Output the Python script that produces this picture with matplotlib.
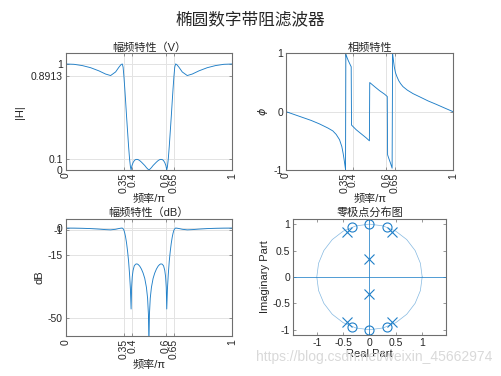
import matplotlib
matplotlib.use("Agg")
import matplotlib.pyplot as plt

plt.rcParams['font.family'] = ['Liberation Sans', 'Noto Sans CJK SC', 'DejaVu Sans']
plt.rcParams['axes.unicode_minus'] = False

# ---------------- data ----------------
freq_ticks = [0, 0.35, 0.4, 0.6, 0.65, 1]
freq_tick_labels = ['0', '0.35', '0.4', '0.6', '0.65', '1']

mag_f = [0, 0.05, 0.10, 0.15, 0.20, 0.24, 0.27, 0.30, 0.32, 0.333, 0.340, 0.345,
         0.350, 0.355, 0.360, 0.366, 0.372, 0.378, 0.384, 0.389, 0.393, 0.398,
         0.405, 0.413, 0.420, 0.428, 0.436, 0.445, 0.455, 0.465, 0.475, 0.485,
         0.493, 0.500, 0.507, 0.515, 0.525, 0.535, 0.545, 0.555, 0.564, 0.572,
         0.580, 0.587, 0.595, 0.602, 0.607, 0.611, 0.616, 0.622, 0.628, 0.634,
         0.640, 0.645, 0.650, 0.655, 0.660, 0.667, 0.680, 0.700, 0.730, 0.760,
         0.800, 0.850, 0.900, 0.950, 1.0]
mag_v = [1.0, 0.997, 0.985, 0.965, 0.935, 0.905, 0.891, 0.925, 0.97, 0.995, 1.0, 0.97,
         0.88, 0.77, 0.65, 0.50, 0.36, 0.22, 0.10, 0.03, 0.0, 0.04,
         0.07, 0.09, 0.098, 0.1, 0.097, 0.088, 0.074, 0.058, 0.042, 0.022,
         0.009, 0.0, 0.009, 0.022, 0.042, 0.058, 0.074, 0.088, 0.097, 0.1,
         0.098, 0.09, 0.07, 0.04, 0.0, 0.03, 0.10, 0.22, 0.36, 0.50,
         0.65, 0.77, 0.88, 0.97, 1.0, 0.995, 0.97, 0.925, 0.891, 0.905,
         0.935, 0.965, 0.985, 0.997, 1.0]

db_f = [0, 0.05, 0.10, 0.15, 0.20, 0.24, 0.27, 0.30, 0.32, 0.333, 0.340, 0.345,
        0.350, 0.355, 0.360, 0.366, 0.372, 0.378, 0.384, 0.389, 0.393, 0.396,
        0.400, 0.405, 0.412, 0.420, 0.428, 0.436, 0.445, 0.455, 0.465, 0.475,
        0.485, 0.492, 0.497, 0.500, 0.503, 0.508, 0.515, 0.525, 0.535, 0.545,
        0.555, 0.564, 0.572, 0.580, 0.588, 0.595, 0.600, 0.604, 0.607, 0.611,
        0.616, 0.622, 0.628, 0.634, 0.640, 0.645, 0.650, 0.655, 0.660, 0.667,
        0.680, 0.700, 0.730, 0.760, 0.800, 0.850, 0.900, 0.950, 1.0]
db_v = [0, -0.03, -0.13, -0.3, -0.58, -0.87, -1.0, -0.68, -0.26, -0.04, 0, -0.4,
        -1.2, -2.8, -5, -8.5, -13, -18.5, -26, -34, -45, -33,
        -27, -23.5, -21, -20.1, -19.9, -20.3, -21.2, -22.8, -25, -28,
        -33, -39, -48, -65, -48, -39, -33, -28, -25, -22.8,
        -21.2, -20.3, -19.9, -20.1, -21, -23.5, -27, -33, -45, -34,
        -26, -18.5, -13, -8.5, -5, -2.8, -1.2, -0.4, 0, -0.04,
        -0.26, -0.68, -1.0, -0.87, -0.58, -0.3, -0.13, -0.03, 0]

ph_f = [0, 0.05, 0.10, 0.15, 0.20, 0.25, 0.28, 0.30, 0.32, 0.334, 0.342, 0.348,
        0.353, 0.356, 0.358, 0.365, 0.372, 0.380, 0.390, 0.392, 0.42, 0.45,
        0.48, 0.499, 0.501, 0.53, 0.56, 0.59, 0.606, 0.608, 0.615, 0.625,
        0.635, 0.638, 0.642, 0.648, 0.655, 0.664, 0.675, 0.686, 0.70, 0.726,
        0.76, 0.80, 0.85, 0.90, 0.95, 1.0]
ph_v = [0, -0.05, -0.10, -0.15, -0.21, -0.28, -0.33, -0.39, -0.48, -0.60, -0.72, -0.83,
        -0.93, -0.99, 0.99, 0.93, 0.88, 0.83, 0.77, -0.23, -0.31, -0.38,
        -0.45, -0.50, 0.50, 0.43, 0.36, 0.30, 0.26, -0.74, -0.80, -0.88,
        -0.97, 0.99, 0.90, 0.77, 0.67, 0.60, 0.53, 0.48, 0.43, 0.37,
        0.31, 0.255, 0.185, 0.125, 0.062, 0.0]

zeros_re = [0.0, 0.0, 0.34, -0.34, 0.34, -0.34]
zeros_im = [1.0, -1.0, 0.94, 0.94, -0.94, -0.94]
poles_re = [0.42, -0.42, 0.42, -0.42, 0.0, 0.0]
poles_im = [0.85, 0.85, -0.85, -0.85, 0.33, -0.33]

circle_re = [1.0, 0.966, 0.866, 0.707, 0.5, 0.259, 0.0, -0.259, -0.5, -0.707, -0.866, -0.966,
             -1.0, -0.966, -0.866, -0.707, -0.5, -0.259, 0.0, 0.259, 0.5, 0.707, 0.866, 0.966, 1.0]
circle_im = [0.0, 0.259, 0.5, 0.707, 0.866, 0.966, 1.0, 0.966, 0.866, 0.707, 0.5, 0.259,
             0.0, -0.259, -0.5, -0.707, -0.866, -0.966, -1.0, -0.966, -0.866, -0.707, -0.5, -0.259, 0.0]

# ---------------- style ----------------
LINE = '#1f7fc8'
SPINE = '#6e6e6e'
GRID = '#e3e3e3'
TXT = '#262626'
TS = 7.5
LW = 0.65

fig = plt.figure(figsize=(5.01, 3.76), dpi=100)
fig.text(0.5, 0.947, '椭圆数字带阻滤波器', ha='center', va='center', fontsize=12,
         color=TXT, family=['Noto Sans CJK SC'])


def style(ax):
    for s in ax.spines.values():
        s.set_color(SPINE)
        s.set_linewidth(0.8)
    ax.tick_params(direction='in', length=2.5, width=0.5, colors=SPINE,
                   labelcolor=TXT, labelsize=TS, top=True, right=True, pad=2)


def freq_axis(ax):
    ax.set_xlim(0, 1)
    ax.set_xticks(freq_ticks)
    ax.set_xticklabels(freq_tick_labels, rotation=90)
    ax.set_xlabel('频率/π', fontsize=8, color=TXT, labelpad=1)
    ax.grid(True, color=GRID, linewidth=0.7)
    ax.set_axisbelow(True)


# Top-left: linear magnitude
ax1 = fig.add_axes([0.131, 0.548, 0.3325, 0.310])
ax1.plot(mag_f, mag_v, color=LINE, linewidth=LW)
ax1.set_ylim(0, 1.1)
ax1.set_yticks([0, 0.1, 0.8913, 1])
ax1.set_yticklabels(['0', '0.1', '0.8913', '1'])
freq_axis(ax1)
ax1.set_ylabel('|H|', fontsize=8, color=TXT, labelpad=4)
ax1.set_title('幅频特性（V）', fontsize=8, color=TXT, pad=2)
style(ax1)

# Top-right: phase
ax2 = fig.add_axes([0.571, 0.548, 0.3333, 0.310])
ax2.plot(ph_f, ph_v, color=LINE, linewidth=LW)
ax2.set_ylim(-1, 1)
ax2.set_yticks([-1, 0, 1])
ax2.set_yticklabels(['-1', '0', '1'])
freq_axis(ax2)
ax2.set_ylabel(r'$\phi$', fontsize=8, color=TXT, labelpad=3)
ax2.set_title('相频特性', fontsize=8, color=TXT, pad=2)
style(ax2)

# Bottom-left: dB magnitude
ax3 = fig.add_axes([0.131, 0.1064, 0.3325, 0.311])
ax3.plot(db_f, db_v, color=LINE, linewidth=LW)
ax3.set_ylim(-60, 5)
ax3.set_yticks([-50, -15, -1, 0])
ax3.set_yticklabels(['-50', '-15', '-1', '0'])
freq_axis(ax3)
ax3.set_ylabel('dB', fontsize=8, color=TXT, labelpad=2)
ax3.set_title('幅频特性（dB）', fontsize=8, color=TXT, pad=2)
style(ax3)

# Bottom-right: pole-zero
ax4 = fig.add_axes([0.585, 0.109, 0.305, 0.309])
ax4.plot(circle_re, circle_im, color=LINE, linewidth=0.5, alpha=0.55)
ax4.axhline(0, color=LINE, linewidth=0.6, alpha=0.9)
ax4.axvline(0, color=LINE, linewidth=0.6, alpha=0.9)
ax4.plot(zeros_re, zeros_im, linestyle='none', marker='o', markersize=6.5,
         markerfacecolor='none', markeredgecolor=LINE, markeredgewidth=0.8)
ax4.plot(poles_re, poles_im, linestyle='none', marker='x', markersize=6.5,
         color=LINE, markeredgewidth=0.8)
ax4.set_xlim(-1.45, 1.45)
ax4.set_ylim(-1.1, 1.1)
ax4.set_xticks([-1, -0.5, 0, 0.5, 1])
ax4.set_xticklabels(['-1', '-0.5', '0', '0.5', '1'])
ax4.set_yticks([-1, -0.5, 0, 0.5, 1])
ax4.set_yticklabels(['-1', '-0.5', '0', '0.5', '1'])
ax4.set_xlabel('Real Part', fontsize=8, color=TXT, labelpad=1)
ax4.set_ylabel('Imaginary Part', fontsize=8, color=TXT, labelpad=2)
ax4.set_title('零极点分布图', fontsize=8, color=TXT, pad=2)
style(ax4)

fig.text(0.982, 0.05, 'https://blog.csdn.net/weixin_45662974', ha='right', va='center',
         fontsize=10, color='#d9d9d9')

fig.savefig('out.png', dpi=100)
